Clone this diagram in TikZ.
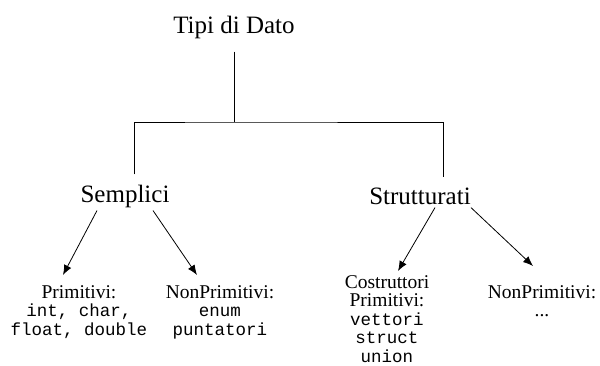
\documentclass[tikz,border=0pt]{standalone}
\usepackage{fontspec}
\setmainfont{Liberation Serif}
\setmonofont{Liberation Mono}
\usetikzlibrary{arrows.meta}
\tikzstyle{TopLabel}=[inner sep=0pt,font=\fontsize{25}{28}\selectfont]
\tikzstyle{LeafLabel}=[inner sep=0pt,anchor=north,align=center,
font=\fontsize{19.5}{18.5}\selectfont]
\tikzstyle{TreeEdge}=[black,line width=0.8pt]
\tikzstyle{ArrowEdge}=[black,line width=0.8pt,-{Latex[length=10pt,width=8pt]}]
\newcommand{\Code}[1]{{\fontsize{17.5}{18}\selectfont\ttfamily #1}}
\begin{document}
\begin{tikzpicture}[x=1pt,y=-1pt]
        \useasboundingbox (0,0) rectangle (600,365);
        \node[TopLabel](tipi)at(234,27){Tipi di Dato};
        \node[TopLabel](semplici)at(125,196){Semplici};
        \node[TopLabel](strutturati)at(420,196){Strutturati};
        \coordinate (jn) at (234,122);
        \node[LeafLabel](primitivi)at(79,285){Primitivi:\\ \Code{int, char,}\\ \Code{float, double}};
        \node[LeafLabel](nonprimA)at(220,285){NonPrimitivi:\\ \Code{enum}\\ \Code{puntatori}};
        \node[LeafLabel](costruttori)at(387,275){Costruttori\\ Primitivi:\\ \Code{vettori}\\ \Code{struct}\\ \Code{union}};
        \node[LeafLabel](nonprimB)at(542,285){NonPrimitivi:\\ ...};
        \draw[TreeEdge]([yshift=-13pt]tipi.south)--(jn);
        \draw[TreeEdge]([xshift=9pt,yshift=10pt]semplici.north)|-(jn)-|([xshift=23pt,yshift=10pt]strutturati.north);
        \draw[ArrowEdge]([xshift=-28pt,yshift=-3pt]semplici.south)--([xshift=-16pt,yshift=10pt]primitivi.north);
        \draw[ArrowEdge]([xshift=28pt,yshift=-3pt]semplici.south)--([xshift=-23pt,yshift=10pt]nonprimA.north);
        \draw[ArrowEdge]([xshift=15pt,yshift=-3pt]strutturati.south)--([xshift=11pt,yshift=4pt]costruttori.north);
        \draw[ArrowEdge]([xshift=51pt,yshift=-3pt]strutturati.south)--([xshift=-9pt,yshift=19pt]nonprimB.north);
    \end{tikzpicture}
\end{document}
